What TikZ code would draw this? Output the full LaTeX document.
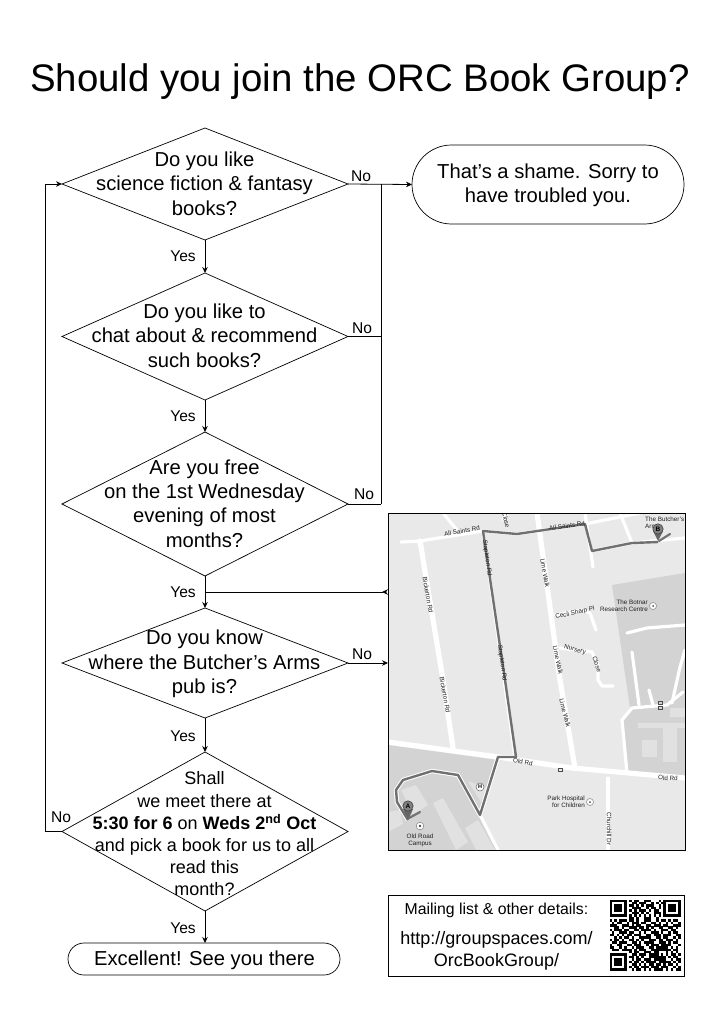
\documentclass[tikz,border=0pt]{standalone}
\usepackage{fontspec}
\setmainfont{Liberation Sans}
\usetikzlibrary{shapes.geometric,shapes.misc,arrows.meta}
\newcount\qrx
\newcount\qry
\def\qrscan#1{\ifx#1.\else\if#11\fill[qrdark] (609.5+\the\qrx*2.45,899.5+\the\qry*2.45) rectangle +(2.5,2.5);\fi\advance\qrx by 1 \expandafter\qrscan\fi}
\tikzset{
  body/.style={font=\fontsize{20.2}{24.4}\selectfont,align=center,inner sep=0pt,text=black},
  small/.style={font=\fontsize{15.6}{17}\selectfont,inner sep=0pt,text=black},
  decision/.style={draw=black,line width=0.7pt,shape=diamond,inner sep=0pt,outer sep=0pt,minimum width=286pt},
  terminator/.style={draw=black,line width=0.7pt,shape=rounded rectangle,inner sep=0pt,outer sep=0pt},
  link/.style={draw=black,line width=0.8pt},
  flow/.style={link,-{Stealth[length=6pt,width=5.5pt]}},
  road/.style={draw=white,line width=5.2pt,line join=round,line cap=round},
  thinroad/.style={draw=white,line width=3.2pt,line join=round,line cap=round},
  route/.style={draw=maproute,line width=2.4pt,line join=round},
  mapt/.style={font=\fontsize{6.3}{7.2}\selectfont,inner sep=0pt,text=mapink,align=center},
  qrdark/.style={fill=black},
}
\definecolor{mapbg}{HTML}{E9E9E9}
\definecolor{mapzone}{HTML}{D3D3D3}
\definecolor{mapblock}{HTML}{E1E1E1}
\definecolor{maproute}{HTML}{707070}
\definecolor{mapink}{HTML}{202020}
\begin{document}
\begin{tikzpicture}[x=1pt,y=-1pt]
\useasboundingbox[fill=white] (0,0) rectangle (722,1022);
\node[inner sep=0pt,font=\fontsize{38.4}{44}\selectfont] (title) at (360,82) {Should you join the ORC Book Group?};

% map
\begin{scope}
\clip (388,513) rectangle (685,850);
\fill[mapbg] (388,513) rectangle (685,850);
\fill[mapzone] (612,585) -- (685,573) -- (685,778) -- (627,773) -- (622,720) -- (630,708) -- cycle;
\fill[mapzone] (388,745) -- (498,760) -- (480,815) -- (498,850) -- (388,850) -- cycle;
\fill[mapblock] (638,723) rectangle (685,728);
\fill[mapblock] (663,725) rectangle (677,762);
\fill[mapblock] (642,740) rectangle (657,757);
\fill[mapblock] (670,708) rectangle (685,717);
\fill[mapblock] (401,790) -- (416,785) -- (428,805) -- (413,815) -- cycle;
\fill[mapblock] (433,803) -- (443,798) -- (468,842) -- (456,850) -- cycle;
\fill[mapblock] (465,828) -- (478,820) -- (495,850) -- (476,850) -- cycle;
\fill[mapblock] (468,781) -- (487,788) -- (481,802) -- cycle;
\fill[mapblock] (388,812) -- (400,810) -- (403,824) -- (388,832) -- cycle;
% roads
\draw[thinroad] (401,542) -- (420,541) -- (483,531) -- (517,534) -- (585,524) -- (640,513);
\draw[road] (420,541) -- (443,680) -- (453,748);
\draw[road] (388,742) -- (498,757) -- (572,768) -- (685,778);
\draw[road] (537,513) -- (560,680) -- (575,768);
\draw[thinroad] (608,778) -- (608,850);
\draw[thinroad] (480,815) -- (498,850);
\draw[thinroad] (555,615) -- (582,610) -- (590,613) -- (596,630);
\draw[thinroad] (560,648) -- (592,652) -- (598,665) -- (598,680) -- (602,686) -- (613,686);
\draw[thinroad] (443,513) -- (457,530);
\draw[thinroad] (483,531) -- (515,757);
\draw[thinroad] (507,513) -- (503,520);
\draw[thinroad] (585,513) -- (593,567);
\draw[thinroad] (620,513) -- (632,543);
\draw[thinroad] (592,551) -- (632,543) -- (685,538);
\draw[thinroad] (627,633) -- (647,628) -- (685,625);
\draw[thinroad] (632,652) -- (639,705);
\draw[thinroad] (649,690) -- (653,705);
\draw[thinroad] (627,773) -- (622,720) -- (632,708) -- (667,705) -- (683,692);
\draw[thinroad] (672,703) -- (680,667) -- (685,650);
\draw[line width=4.4pt,white,line join=round] (516,757) -- (498,757) -- (480,815) -- (458,775) -- (432,771) -- (403,780) -- (396,790) -- (397,802) -- (408,820);
% route
\draw[route] (658,542) -- (632,543) -- (592,551) -- (585,524) -- (517,534) -- (483,531) -- (505,680) -- (516,757) -- (498,757) -- (480,815) -- (458,775) -- (432,771) -- (403,780) -- (396,790) -- (397,802) -- (408,820);
% labels
\node[mapt,rotate=9] at (462,531) {All Saints Rd};
\node[mapt,rotate=8] at (567,526) {All Saints Rd};
\node[mapt,rotate=-78] at (506,520) {Close};
\node[mapt,rotate=-82] at (487,558) {Stapleton Rd};
\node[mapt,rotate=-82] at (502,663) {Stapleton Rd};
\node[mapt,rotate=-80] at (545,573) {Lime Walk};
\node[mapt,rotate=-78] at (558,660) {Lime Walk};
\node[mapt,rotate=-76] at (565,713) {Lime Walk};
\node[mapt,rotate=-80] at (428,595) {Bickerton Rd};
\node[mapt,rotate=-80] at (445,695) {Bickerton Rd};
\node[mapt,rotate=12] at (575,613) {Cecil Sharp Pl};
\node[mapt,rotate=-14] at (575,650) {Nursery};
\node[mapt,rotate=-72] at (597,664) {Close};
\node[mapt,rotate=-8] at (523,762) {Old Rd};
\node[mapt,rotate=-2] at (668,778) {Old Rd};
\node[mapt,rotate=-90] at (609,829) {Churchill Dr};
\node[mapt,align=right,anchor=east] at (585,802) {Park Hospital\\for Children};
\node[mapt,align=right,anchor=east] at (648,605.5) {The Botnar\\Research Centre};
\node[mapt,align=left,anchor=west] at (645,522.5) {The Butcher's\\Arms};
\node[mapt] at (420,840) {Old Road\\Campus};
% markers
\draw[line width=2.2pt,black!55,line cap=round] (409,818) -- (420,812);
\draw[line width=2.2pt,black!55,line cap=round] (659,541) -- (670,534);
\fill[black!60] (408,820) -- (403,809) -- (413,809) -- cycle;
\fill[black!60] (658,541) -- (653,531) -- (663,531) -- cycle;
\filldraw[fill=black!50,draw=black!75,line width=0.6pt] (408,806) circle (5.2);
\filldraw[fill=black!50,draw=black!75,line width=0.6pt] (658,529) circle (5.2);
\node[mapt,text=black,font=\fontsize{6.5}{7}\selectfont\bfseries] at (408,806) {A};
\node[mapt,text=black,font=\fontsize{6.5}{7}\selectfont\bfseries] at (658,529) {B};
\filldraw[fill=white,draw=black!60,line width=0.5pt] (480,787) circle (4);
\node[mapt,text=black,font=\fontsize{5.5}{6}\selectfont\bfseries] at (480,787) {H};
\filldraw[fill=white,draw=black!50,line width=0.5pt] (653,606) circle (3.5);
\fill[black!70] (653,606) circle (1);
\filldraw[fill=white,draw=black!50,line width=0.5pt] (590,802) circle (3.5);
\fill[black!70] (590,802) circle (1);
\filldraw[fill=white,draw=black!50,line width=0.5pt] (420,826) circle (3.8);
\fill[black!70] (420,826) circle (1.3);
\draw[black!70,line width=0.5pt] (658,701) rectangle +(4,3);
\draw[black!70,line width=0.5pt] (658,706) rectangle +(4,3);
\draw[black!70,line width=0.5pt] (558,768) rectangle +(4,3);
\end{scope}
\node[draw=black,line width=0.8pt,minimum width=297pt,minimum height=337pt,inner sep=0pt,outer sep=0pt] (map) at (536.5,681.5) {};

% decisions
\node[decision,minimum height=112pt] (d1) at (205,184) {};
\node[decision,minimum height=127pt] (d2) at (205,336.5) {};
\node[decision,minimum height=144pt] (d3) at (205,504) {};
\node[decision,minimum height=110pt] (d4) at (205,663) {};
\node[decision,minimum height=159pt] (d5) at (205,831.5) {};
\node[body] (t1) at (204.5,183.5) {Do you like\\science fiction \& fantasy\\books?};
\node[body] (t2) at (204.5,335.5) {Do you like to\\chat about \& recommend\\such books?};
\node[body] (t3) at (204.5,503.5) {Are you free\\on the 1st Wednesday\\evening of most\\months?};
\node[body] (t4) at (204.5,664) {Do you know\\where the Butcher's Arms\\pub is?};
\node[body,font=\fontsize{18}{22.2}\selectfont] (t5) at (204.5,834) {Shall\\we meet there at\\\textbf{5:30 for 6} on \textbf{Weds 2\textsuperscript{nd} Oct}\\and pick a book for us to all\\read this\\month?};

% terminators
\node[terminator,minimum width=272pt,minimum height=79pt] (shame) at (548,184.5) {};
\node[body] (shameText) at (548,185.5) {That's a shame. Sorry to\\have troubled you.};
\node[terminator,minimum width=272pt,minimum height=32pt] (see) at (204,959) {};
\node[body] (seeText) at (204.5,960) {Excellent! See you there};

% connectors
\coordinate (jA) at (381,184);
\coordinate (jL) at (45,184);
\coordinate (jY) at (205,592);
\draw[flow] (d1.east) -- (shame.west);
\draw[link] (jA) -- (jA |- d3.east);
\draw[link] (d2.east) -- (d2.east -| jA);
\draw[link] (d3.east) -- (d3.east -| jA);
\draw[flow] (d1.south) -- (d2.north);
\draw[flow] (d2.south) -- (d3.north);
\draw[flow] (d3.south) -- (d4.north);
\draw[flow] (d4.south) -- (d5.north);
\draw[flow] (d5.south) -- (see.north -| d5.south);
\draw[flow] (d4.east) -- (d4.east -| map.west);
\draw[link,{Stealth[length=6pt,width=5.5pt,reversed]}-] (jY -| map.west) -- (jY);
\draw[flow] (d5.west) -- (d5.west -| jL) -- (jL) -- (d1.west);

% branch labels
\node[small] (n1) at (361,176.5) {No};
\node[small] (n2) at (362,328.5) {No};
\node[small] (n3) at (364,494.5) {No};
\node[small] (n4) at (362,654.5) {No};
\node[small] (n5) at (61,817.5) {No};
\node[small] (y1) at (183,256) {Yes};
\node[small] (y2) at (183,416) {Yes};
\node[small] (y3) at (183,592) {Yes};
\node[small] (y4) at (183,736) {Yes};
\node[small] (y5) at (183,928) {Yes};

% info box
\node[draw=black,line width=0.8pt,minimum width=296pt,minimum height=81pt,inner sep=0pt,outer sep=0pt] (info) at (536,935.5) {};
\node[inner sep=0pt,font=\fontsize{15.8}{17}\selectfont] (mail) at (496.5,910) {Mailing list \& other details:};
\node[inner sep=0pt,align=center,font=\fontsize{18}{22}\selectfont] (url) at (496.5,950.5) {http://groupspaces.com/\\OrcBookGroup/};
\qry=0
\begingroup
\def\qrrow#1{\global\qrx=0 \qrscan#1.\global\advance\qry by 1 }
\qrrow{11111110101100111000101111111}
\qrrow{10000010011011100101011000001}
\qrrow{10111010110101011100101011101}
\qrrow{10111010011110010110101011101}
\qrrow{10111010101011101011001011101}
\qrrow{10000010011101010011101000001}
\qrrow{11111110101010101010101111111}
\qrrow{00000000110100111001000000000}
\qrrow{10101110110100111001011010110}
\qrrow{01011001011101100110100101001}
\qrrow{11100111010110011011101100111}
\qrrow{00110100111011010100110011010}
\qrrow{10111011001101111010011101100}
\qrrow{01001110110010100111010010110}
\qrrow{11010101101110011011101110011}
\qrrow{00101011010011111001101100101}
\qrrow{10110100110101001110110111010}
\qrrow{01101110011010111100111010110}
\qrrow{10011001101110010111011110001}
\qrrow{11001010010111001101111101010}
\qrrow{01110111101011100111111110110}
\qrrow{00000000101100111011000101010}
\qrrow{11111110011011101111010101101}
\qrrow{10000010110101001111111010110}
\qrrow{10111010010110111011111001011}
\qrrow{10111010101101011110111110101}
\qrrow{10111010011010101101101011010}
\qrrow{10000010101101110111011100101}
\qrrow{11111110010110101011110101011}
\endgroup
\end{tikzpicture}
\end{document}
